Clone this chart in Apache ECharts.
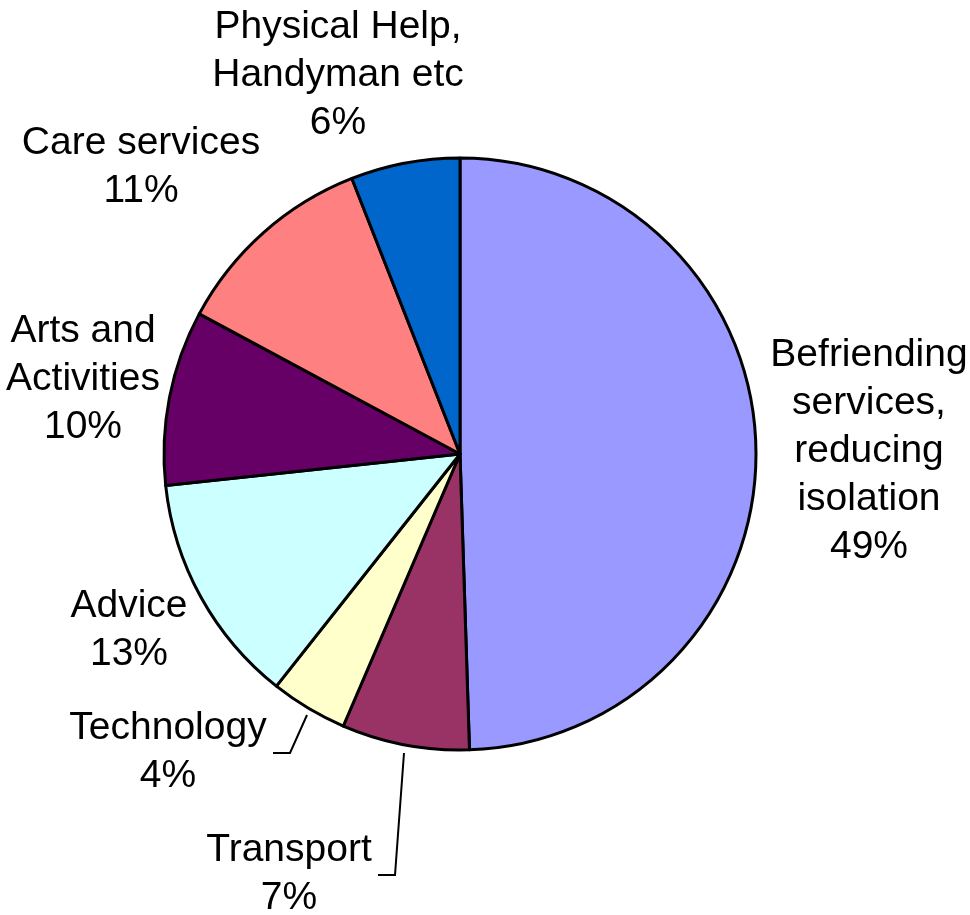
<!DOCTYPE html>
<html>
<head>
<meta charset="utf-8">
<script src="https://cdn.jsdelivr.net/npm/echarts@6/dist/echarts.min.js"></script>
<style>
html,body{margin:0;padding:0;background:#fff;}
#chart{width:970px;height:915px;}
</style>
</head>
<body>
<div id="chart"></div>
<script>
// Data (clockwise from 12 o'clock)
const categories = [
  'Befriending\nservices,\nreducing\nisolation',
  'Transport',
  'Technology',
  'Advice',
  'Arts and\nActivities',
  'Care services',
  'Physical Help,\nHandyman etc'
];
const values = [49.49, 6.96, 4.2, 12.65, 9.55, 11.2, 5.95];
const colors = ['#9999FF', '#993366', '#FFFFCC', '#CCFFFF', '#660066', '#FF8080', '#0066CC'];

// Label placement (layout only)
const labelCenters = [[869, 451], [289, 874], [168, 752], [129, 630], [83, 379], [141, 167], [338, 75]];
const leaderLines = {
  1: [[404, 753], [395, 875], [378, 875]],
  2: [[307, 715], [290, 753], [273, 753]]
};

const chart = echarts.init(document.getElementById('chart'), null, {renderer: 'canvas'});
const data = categories.map((c, i) => ({
  name: c,
  value: values[i],
  itemStyle: {color: colors[i]},
  labelLine: {show: !!leaderLines[i]}
}));

chart.setOption({
  animation: false,
  backgroundColor: '#ffffff',
  series: [{
    type: 'pie',
    center: [460, 454],
    radius: 296,
    startAngle: 90,
    clockwise: true,
    percentPrecision: 0,
    avoidLabelOverlap: false,
    emphasis: {disabled: true},
    itemStyle: {borderColor: '#000', borderWidth: 3},
    label: {
      show: true,
      position: 'outside',
      formatter: '{b}\n{d}%',
      color: '#000',
      fontFamily: 'Liberation Sans, Arial, sans-serif',
      fontSize: 39,
      lineHeight: 48,
      align: 'center'
    },
    labelLine: {show: false, lineStyle: {color: '#000', width: 2}},
    labelLayout: function (p) {
      const i = p.dataIndex;
      const res = {
        x: labelCenters[i][0],
        y: labelCenters[i][1],
        align: 'center',
        verticalAlign: 'middle'
      };
      if (leaderLines[i]) res.labelLinePoints = leaderLines[i];
      return res;
    },
    data: data
  }]
});
</script>
</body>
</html>
